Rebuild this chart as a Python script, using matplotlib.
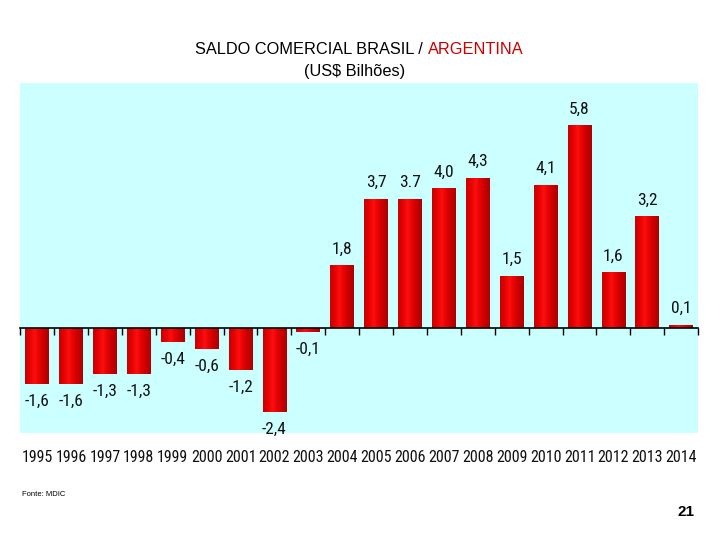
import numpy as np
import matplotlib.pyplot as plt
from matplotlib import font_manager
from matplotlib.font_manager import FontProperties

years = [str(y) for y in range(1995, 2015)]
saldo = [-1.6, -1.6, -1.3, -1.3, -0.4, -0.6, -1.2, -2.4, -0.1, 1.8,
         3.7, 3.7, 4.0, 4.3, 1.5, 4.1, 5.8, 1.6, 3.2, 0.1]
labels = ["-1,6", "-1,6", "-1,3", "-1,3", "-0,4", "-0,6", "-1,2", "-2,4", "-0,1", "1,8",
          "3,7", "3.7", "4,0", "4,3", "1,5", "4,1", "5,8", "1,6", "3,2", "0,1"]


def narrow_font(size):
    names = {f.name for f in font_manager.fontManager.ttflist}
    for name in ["Liberation Sans Narrow", "Roboto Condensed", "Open Sans Condensed",
                 "DejaVu Sans Condensed"]:
        if name in names:
            return FontProperties(family=name, size=size)
    for f in font_manager.fontManager.ttflist:
        if f.stretch in ("condensed", "semi-condensed") and f.style == "normal" \
                and f.weight in (400, "normal", "regular"):
            return FontProperties(fname=f.fname, size=size)
    return FontProperties(family="Liberation Sans", size=size * 0.85)


fig = plt.figure(figsize=(7.2, 5.4), dpi=100)
ax = fig.add_axes([0.028, 0.198, 0.9417, 0.648])
ax.set_facecolor("#ccffff")

x = np.arange(len(years))
bars = ax.bar(x, saldo, width=0.7, color="#e00000", edgecolor="none", zorder=2)

# cylinder-like shading clipped to each bar
grad = np.linspace(0, 1, 64)
shade = np.clip(1 - np.abs(grad - 0.4) * 1.6, 0, 1)
cols = np.zeros((1, 64, 3))
cols[0, :, 0] = 0.66 + 0.34 * shade
cols[0, :, 1] = 0.06 * shade ** 4
cols[0, :, 2] = 0.06 * shade ** 4
for b in bars:
    x0, y0 = b.get_x(), b.get_y()
    w, h = b.get_width(), b.get_height()
    im = ax.imshow(cols, extent=[x0, x0 + w, min(y0, y0 + h), max(y0, y0 + h)],
                   aspect="auto", zorder=3, interpolation="bilinear")
    im.set_clip_path(b)

val_font = narrow_font(12.5)
year_font = narrow_font(11.5)

for xi, v, lab in zip(x, saldo, labels):
    if v >= 0:
        ax.text(xi, v + 0.25, lab, ha="center", va="bottom",
                fontproperties=val_font, color="#111111", zorder=4)
    else:
        ax.text(xi, v - 0.28, lab, ha="center", va="top",
                fontproperties=val_font, color="#111111", zorder=4)

for xi, yr in zip(x, years):
    ax.text(xi, -0.07, yr, transform=ax.get_xaxis_transform(), ha="center",
            va="center", fontproperties=year_font, color="#111111")

ax.set_xlim(-0.5, len(years) - 0.5)
ax.set_ylim(-3, 7)
for s in ["top", "right", "left"]:
    ax.spines[s].set_visible(False)
ax.spines["bottom"].set_position(("data", 0))
ax.spines["bottom"].set_linewidth(1.2)
ax.spines["bottom"].set_zorder(5)
ax.set_xticks(np.arange(len(years) + 1) - 0.5)
ax.set_xticklabels([])
ax.tick_params(axis="x", direction="out", length=5, width=1)
ax.set_yticks([])

fig.text(0.594, 0.908, "SALDO COMERCIAL BRASIL / ", ha="right", va="center",
         fontsize=11.8, family="Liberation Sans")
fig.text(0.594, 0.908, "ARGENTINA", ha="left", va="center", color="#cc0000",
         fontsize=11.8, family="Liberation Sans")
fig.text(0.493, 0.868, "(US$ Bilhões)", ha="center", va="center",
         fontsize=11.8, family="Liberation Sans")
fig.text(0.031, 0.085, "Fonte: MDIC", ha="left", va="center", fontsize=5.5,
         family="Liberation Sans")
fig.text(0.965, 0.052, "21", ha="right", va="center", fontsize=11,
         family="Liberation Sans", fontweight="bold")

fig.savefig("out.png", dpi=100)
